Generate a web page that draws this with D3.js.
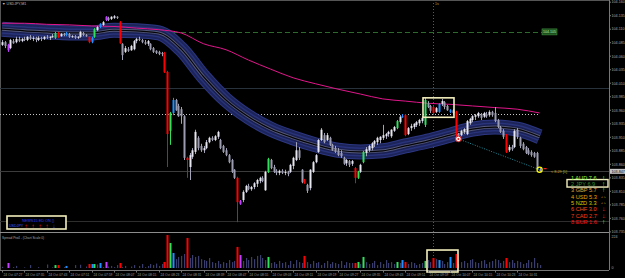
<!DOCTYPE html>
<html lang="en">
<head>
<meta charset="UTF-8">
<title>USDJPY,M1</title>
<script src="https://cdn.jsdelivr.net/npm/d3@7"></script>
<style>
  body { margin: 0; background: #000; }
  svg { display: block; font-family: "Liberation Sans", Arial, sans-serif; }
</style>
</head>
<body>
<svg id="chart" width="625" height="278"></svg>
<script>
// ---- candles (USDJPY M1), one value per bar ----
const open = [
  104.081,104.086,104.081,104.075,104.088,104.086,104.092,104.088,104.092,104.090,
  104.096,104.092,104.094,104.090,104.094,104.092,104.096,104.094,104.096,104.094,
  104.103,104.097,104.101,104.099,104.101,104.096,104.097,104.094,104.096,104.103,
  104.099,104.096,104.086,104.096,104.108,104.114,104.118,104.127,104.131,104.129,
  104.131,104.133,104.123,104.083,104.068,104.073,104.071,104.073,104.088,104.092,
  104.090,104.086,104.083,104.083,104.075,104.070,104.068,104.066,104.066,104.031,
  103.922,103.955,103.979,103.968,103.962,103.949,103.872,103.855,103.874,103.883,
  103.909,103.894,103.886,103.890,103.901,103.909,103.905,103.911,103.905,103.894,
  103.886,103.877,103.868,103.850,103.835,103.792,103.794,103.809,103.820,103.814,
  103.818,103.824,103.829,103.835,103.812,103.846,103.868,103.855,103.848,103.844,
  103.848,103.844,103.846,103.846,103.857,103.868,103.886,103.850,103.831,103.822,
  103.816,103.846,103.864,103.883,103.905,103.914,103.905,103.909,103.896,103.890,
  103.886,103.881,103.872,103.862,103.866,103.861,103.853,103.835,103.846,103.864,
  103.881,103.886,103.890,103.898,103.901,103.905,103.909,103.912,103.916,103.912,
  103.922,103.927,103.938,103.948,103.951,103.916,103.927,103.929,103.933,103.936,
  103.940,103.933,103.973,103.968,103.966,103.957,103.957,103.972,103.975,103.968,
  103.957,103.960,103.957,103.916,103.914,103.920,103.916,103.936,103.942,103.948,
  103.949,103.953,103.948,103.953,103.951,103.957,103.955,103.942,103.929,103.922,
  103.914,103.886,103.892,103.892,103.924,103.909,103.898,103.892,103.886,103.883,
  103.881,103.881,103.851
];
const high = [
  104.090,104.088,104.083,104.092,104.092,104.096,104.096,104.094,104.096,104.097,
  104.099,104.097,104.096,104.097,104.096,104.097,104.099,104.097,104.101,104.105,
  104.105,104.103,104.103,104.105,104.103,104.099,104.099,104.097,104.107,104.105,
  104.101,104.097,104.096,104.112,104.116,104.121,104.125,104.134,104.133,104.134,
  104.136,104.134,104.125,104.084,104.079,104.077,104.081,104.090,104.094,104.096,
  104.092,104.090,104.090,104.084,104.077,104.071,104.070,104.068,104.068,104.033,
  103.957,103.983,103.981,103.972,103.966,103.951,103.874,103.881,103.890,103.924,
  103.912,103.898,103.894,103.905,103.911,103.912,103.914,103.922,103.907,103.896,
  103.890,103.879,103.870,103.851,103.837,103.794,103.812,103.822,103.824,103.820,
  103.827,103.833,103.837,103.838,103.848,103.872,103.870,103.859,103.851,103.850,
  103.851,103.850,103.848,103.861,103.874,103.901,103.892,103.851,103.833,103.824,
  103.851,103.866,103.879,103.907,103.927,103.918,103.918,103.911,103.898,103.894,
  103.890,103.886,103.874,103.870,103.868,103.868,103.855,103.848,103.861,103.885,
  103.892,103.896,103.901,103.905,103.911,103.912,103.933,103.918,103.922,103.925,
  103.931,103.942,103.951,103.953,103.953,103.929,103.935,103.936,103.940,103.944,
  103.949,103.983,103.977,103.970,103.968,103.966,103.973,103.981,103.977,103.970,
  103.962,103.962,103.959,103.918,103.924,103.927,103.942,103.946,103.951,103.953,
  103.957,103.955,103.957,103.957,103.960,103.959,103.966,103.944,103.931,103.925,
  103.916,103.896,103.896,103.925,103.927,103.911,103.901,103.894,103.890,103.886,
  103.883,103.883,103.853
];
const low = [
  104.079,104.075,104.068,104.073,104.083,104.084,104.086,104.086,104.088,104.088,
  104.090,104.088,104.086,104.088,104.088,104.090,104.092,104.090,104.094,104.092,
  104.094,104.096,104.097,104.097,104.094,104.094,104.092,104.092,104.094,104.097,
  104.096,104.084,104.084,104.094,104.107,104.112,104.116,104.125,104.125,104.127,
  104.129,104.129,104.083,104.053,104.066,104.068,104.070,104.071,104.084,104.088,
  104.084,104.081,104.079,104.071,104.066,104.064,104.062,104.060,104.029,103.855,
  103.896,103.951,103.959,103.948,103.935,103.868,103.835,103.831,103.870,103.879,
  103.886,103.883,103.881,103.888,103.899,103.903,103.903,103.907,103.888,103.881,
  103.875,103.862,103.844,103.833,103.753,103.785,103.790,103.807,103.812,103.811,
  103.814,103.818,103.825,103.827,103.811,103.844,103.851,103.844,103.840,103.840,
  103.842,103.840,103.838,103.844,103.851,103.866,103.868,103.825,103.824,103.807,
  103.812,103.844,103.862,103.881,103.903,103.899,103.903,103.894,103.885,103.881,
  103.875,103.872,103.859,103.857,103.855,103.857,103.825,103.833,103.844,103.862,
  103.875,103.883,103.886,103.892,103.896,103.899,103.905,103.907,103.911,103.909,
  103.920,103.925,103.935,103.946,103.912,103.914,103.922,103.925,103.929,103.931,
  103.936,103.929,103.964,103.955,103.953,103.955,103.955,103.968,103.962,103.959,
  103.955,103.951,103.911,103.907,103.912,103.916,103.914,103.933,103.938,103.942,
  103.946,103.942,103.946,103.946,103.948,103.948,103.938,103.927,103.918,103.907,
  103.881,103.883,103.885,103.890,103.907,103.890,103.886,103.879,103.877,103.874,
  103.872,103.850,103.846
];
const close = [
  104.086,104.079,104.071,104.090,104.084,104.092,104.088,104.092,104.090,104.096,
  104.092,104.094,104.090,104.094,104.092,104.096,104.094,104.096,104.097,104.103,
  104.096,104.101,104.099,104.103,104.096,104.097,104.094,104.096,104.105,104.099,
  104.097,104.086,104.094,104.110,104.114,104.120,104.123,104.133,104.127,104.133,
  104.134,104.131,104.084,104.062,104.075,104.070,104.079,104.088,104.092,104.090,
  104.086,104.083,104.088,104.073,104.068,104.066,104.064,104.064,104.031,103.916,
  103.955,103.979,103.960,103.949,103.949,103.872,103.868,103.877,103.886,103.920,
  103.890,103.886,103.890,103.901,103.909,103.905,103.912,103.920,103.890,103.883,
  103.877,103.864,103.846,103.835,103.790,103.787,103.809,103.820,103.814,103.818,
  103.825,103.831,103.835,103.829,103.846,103.870,103.853,103.846,103.844,103.848,
  103.844,103.846,103.842,103.859,103.872,103.886,103.872,103.827,103.825,103.811,
  103.850,103.864,103.877,103.905,103.924,103.901,103.914,103.896,103.886,103.883,
  103.877,103.875,103.861,103.868,103.859,103.866,103.835,103.846,103.859,103.883,
  103.888,103.894,103.899,103.903,103.909,103.911,103.914,103.916,103.920,103.924,
  103.929,103.940,103.948,103.949,103.914,103.927,103.931,103.935,103.938,103.942,
  103.946,103.979,103.966,103.959,103.955,103.964,103.972,103.977,103.966,103.960,
  103.960,103.955,103.914,103.911,103.922,103.925,103.940,103.944,103.949,103.951,
  103.955,103.946,103.955,103.949,103.957,103.951,103.940,103.929,103.920,103.911,
  103.883,103.892,103.888,103.922,103.911,103.894,103.888,103.881,103.879,103.877,
  103.874,103.851,103.847
];

// bars flagged by the signal indicator
const redBars = [20, 31, 42, 58, 59, 66, 84, 108, 126, 144, 154, 162, 180];
const greenBars = [19, 33, 60, 95, 127, 129, 141, 151];
const blueBars = [23, 32, 35, 61, 143, 156, 160];
const magentaBars = [2, 37, 85];

// spread per bar (sub window, scale 0..224)
const spread = [
  8,0,34,0,6,14,0,0,4,0,
  20,0,0,6,0,0,24,0,4,20,
  20,0,6,14,0,0,20,0,22,0,
  10,27,27,27,24,34,6,41,10,14,
  6,20,34,6,14,0,10,20,0,14,
  27,6,14,27,20,30,14,27,41,224,
  170,102,60,75,82,95,204,68,88,75,
  82,60,54,48,68,40,34,48,27,40,
  34,54,40,48,143,88,48,68,54,75,
  60,82,88,68,54,75,34,40,27,48,
  34,40,20,48,27,54,40,34,82,40,
  27,48,34,40,20,34,48,27,40,34,
  27,48,20,40,34,34,34,41,27,75,
  40,27,34,48,20,40,27,54,34,40,
  27,41,34,54,41,27,40,34,20,27,
  34,48,54,40,68,60,54,48,27,40,
  75,34,95,27,40,48,34,54,60,40,
  34,48,54,27,40,48,60,54,34,48,
  68,40,54,34,48,40,27,34,54,40,
  68,34,20
];

// moving averages, read every 8 bars
const maBars = [0,8,16,24,32,40,48,56,64,72,80,88,96,104,112,120,128,136,144,152,160,168,176,184,192];
const bandMid = [104.110,104.107,104.105,104.103,104.103,104.108,104.107,104.103,104.073,104.022,
  103.979,103.948,103.925,103.909,103.896,103.886,103.883,103.885,103.894,103.903,
  103.914,103.925,103.929,103.925,103.911];
const slowMa = [104.121,104.121,104.119,104.118,104.116,104.115,104.112,104.109,104.103,104.083,
  104.072,104.053,104.036,104.020,104.009,103.999,103.990,103.981,103.977,103.973,
  103.971,103.968,103.965,103.962,103.955];

// axis ticks
const priceTicks = [104.160,104.135,104.110,104.085,104.060,104.035,104.010,103.985,103.960,
  103.935,103.910,103.885,103.860,103.835,103.810,103.785,103.760,103.735];
const timeLabels = ['24 Oct 07:27','24 Oct 07:35','24 Oct 07:43','24 Oct 07:51','24 Oct 07:59',
  '24 Oct 08:07','24 Oct 08:15','24 Oct 08:23','24 Oct 08:31','24 Oct 08:39','24 Oct 08:47',
  '24 Oct 08:55','24 Oct 09:03','24 Oct 09:11','24 Oct 09:19','24 Oct 09:27','24 Oct 09:35',
  '24 Oct 09:43','24 Oct 09:51','24 Oct 09:59','24 Oct 10:07','24 Oct 10:15','24 Oct 10:23',
  '24 Oct 10:31'];

// levels
const bidPrice = 103.847;
const targetPrice = 104.105;
const greyLevel = 104.001;
const dottedLevel = 103.953;
const lowLevel = 103.755;

// currency strength panel
const ccyRank = [1, 2, 3, 4, 5, 6, 7, 8];
const ccyName = ['AUD', 'JPY', 'GBP', 'USD', 'NZD', 'CHF', 'CAD', 'EUR'];
const ccyValue = [7.6, 6.9, 5.7, 5.3, 3.3, 3.0, 2.7, 1.6];
const ccyTrend = ['up', 'up', 'up', 'flat', 'flat', 'down', 'down', 'up'];

// news panel arrows
const newsArrows = ['up', 'up', 'up', 'up', 'down'];

const svg = d3.select('#chart');
const W = 625, H = 278;
const plotRight = 609, mainBottom = 232;
const n = close.length;

svg.append('rect').attr('width', W).attr('height', H).attr('fill', '#000');

const x = d3.scaleLinear().domain([0, n - 1]).range([2, 539.6]);
const y = d3.scaleLinear().domain([103.7348, 104.164]).range([mainBottom, 0]);
const ys = d3.scaleLinear().domain([0, 224]).range([268, 235]);

const signal = {};
redBars.forEach(i => signal[i] = '#ff0000');
greenBars.forEach(i => signal[i] = '#2fe05a');
blueBars.forEach(i => signal[i] = '#1e90ff');
magentaBars.forEach(i => signal[i] = '#c040ff');

// frame
svg.append('line').attr('x1', 0.5).attr('x2', 0.5).attr('y1', 0).attr('y2', 270).attr('stroke', '#555');
svg.append('line').attr('x1', 0).attr('x2', plotRight).attr('y1', 0.5).attr('y2', 0.5).attr('stroke', '#555');
svg.append('line').attr('x1', plotRight + 0.5).attr('x2', plotRight + 0.5).attr('y1', 0).attr('y2', 270).attr('stroke', '#777');
svg.append('line').attr('x1', 0).attr('x2', plotRight).attr('y1', mainBottom + 0.5).attr('y2', mainBottom + 0.5).attr('stroke', '#8c8c8c');
svg.append('line').attr('x1', 0).attr('x2', plotRight).attr('y1', 270.5).attr('y2', 270.5).attr('stroke', '#777');

// horizontal levels
const hline = (p, x1, x2, color, dash) => svg.append('line')
  .attr('x1', x1).attr('x2', x2)
  .attr('y1', Math.round(y(p)) + 0.5).attr('y2', Math.round(y(p)) + 0.5)
  .attr('stroke', color).attr('stroke-dasharray', dash || null);
hline(greyLevel, 0, plotRight, '#27323c');
hline(lowLevel, 0, plotRight, '#2e2e2e');
hline(bidPrice, 0, plotRight, '#3c3c3c');
hline(dottedLevel, 0, x(n - 1), '#c8c8c8', '1,2');
hline(targetPrice, 165, 542, '#2e6a2e', '5,3');

// target label
svg.append('rect').attr('x', 542).attr('y', y(targetPrice) - 3).attr('width', 15).attr('height', 6)
  .attr('fill', '#1d4f1d').attr('stroke', '#3f8f3f').attr('stroke-width', 0.6);
svg.append('text').attr('x', 549.5).attr('y', y(targetPrice) + 1.3).attr('text-anchor', 'middle')
  .attr('font-size', 3.6).attr('fill', '#b8f0b8').text(targetPrice.toFixed(3));

// vertical dotted timer line
svg.append('line').attr('x1', 433.5).attr('x2', 433.5).attr('y1', 0).attr('y2', 270)
  .attr('stroke', '#5a5a5a').attr('stroke-dasharray', '1,2');
svg.append('text').attr('x', 435).attr('y', 5).attr('font-size', 3.6).attr('fill', '#b0a040').text('1s');

// channel band
const maLine = d3.line().x((d, k) => x(maBars[k])).y(d => y(d)).curve(d3.curveMonotoneX);
const bandLayers = [
  [15, '#2c3782'], [13, '#1c2459'], [9, '#28337a'], [6, '#1a2152'],
  [3, '#55597a'], [1.2, '#050508']
];
bandLayers.forEach(([w, c]) => {
  svg.append('path').attr('d', maLine(bandMid)).attr('fill', 'none')
    .attr('stroke', c).attr('stroke-width', w);
});

// slow MA
svg.append('path').attr('d', maLine(slowMa)).attr('fill', 'none')
  .attr('stroke', '#e0168a').attr('stroke-width', 1);

// candles
const gC = svg.append('g');
d3.range(n).forEach(i => {
  const cx = Math.round(x(i));
  const up = close[i] >= open[i];
  const col = signal[i] || (up ? '#e6e6f0' : '#9c9cb0');
  gC.append('line')
    .attr('x1', cx + 0.5).attr('x2', cx + 0.5)
    .attr('y1', y(high[i])).attr('y2', y(low[i]))
    .attr('stroke', signal[i] || '#a4a4b8').attr('stroke-width', 1);
  const top = y(Math.max(open[i], close[i]));
  const h = Math.max(1, Math.abs(y(open[i]) - y(close[i])));
  gC.append('rect')
    .attr('x', cx - 0.5).attr('y', top).attr('width', 2).attr('height', h)
    .attr('fill', col);
});

// candle highlight box
svg.append('rect').attr('x', 423).attr('y', y(103.983)).attr('width', 31)
  .attr('height', y(103.947) - y(103.983)).attr('fill', 'none')
  .attr('stroke', '#f3eebc').attr('stroke-width', 1.6);

// divergence line and markers
const mA = 163, mB = n - 1;
svg.append('line').attr('x1', x(mA)).attr('y1', y(103.907)).attr('x2', x(mB)).attr('y2', y(103.850))
  .attr('stroke', '#1f8c9c').attr('stroke-dasharray', '1,1.5');
svg.append('circle').attr('cx', x(mA)).attr('cy', y(103.907)).attr('r', 2.8)
  .attr('fill', '#fff').attr('stroke', '#e02020').attr('stroke-width', 1);
svg.append('circle').attr('cx', x(mA)).attr('cy', y(103.907)).attr('r', 1)
  .attr('fill', '#e02020');
svg.append('circle').attr('cx', x(mB)).attr('cy', y(103.850)).attr('r', 2.6)
  .attr('fill', 'none').attr('stroke', '#ffff00').attr('stroke-width', 1.2);
svg.append('line').attr('x1', x(mB) + 4).attr('x2', x(mB) + 7).attr('y1', y(103.852)).attr('y2', y(103.852))
  .attr('stroke', '#ff2020').attr('stroke-width', 1.2);
svg.append('text').attr('x', 551).attr('y', y(103.847) + 1.3).attr('font-size', 3.8)
  .attr('fill', '#d4a017').text('< 8.29 [1]');

// price axis
const gY = svg.append('g').attr('font-size', 3.7).attr('fill', '#a8a8a8');
priceTicks.forEach(p => {
  gY.append('line').attr('x1', plotRight).attr('x2', plotRight + 2)
    .attr('y1', y(p)).attr('y2', y(p)).attr('stroke', '#777');
  gY.append('text').attr('x', plotRight + 2.5).attr('y', y(p) + 1.3).text(p.toFixed(3));
});
svg.append('rect').attr('x', plotRight + 1).attr('y', y(bidPrice) - 2.5).attr('width', 15).attr('height', 5)
  .attr('fill', '#c4c4c4');
svg.append('text').attr('x', plotRight + 2.5).attr('y', y(bidPrice) + 1.3)
  .attr('font-size', 3.7).attr('fill', '#000').text(bidPrice.toFixed(3));

// symbol label
svg.append('text').attr('x', 2).attr('y', 5).attr('font-size', 3.6).attr('fill', '#bbb')
  .text('\u25BC USDJPY,M1');

// currency strength table
const rowColor = ['#8cff3c', '#2f8f2f', '#e5a23c', '#f0a000', '#d8c800', '#ff4a1a', '#ff3a10', '#ff1010'];
const arrowColor = { up: '#22ff22', down: '#ff2020', flat: '#e0c000' };
const arrowGlyph = { up: '\u2191', down: '\u2193', flat: '\u21D4' };
const rowY = d3.scaleLinear().domain([0, 7]).range([177.5, 222]);
svg.append('rect').attr('x', 567).attr('y', rowY(1) - 4.3).attr('width', 41).attr('height', 7.5)
  .attr('fill', 'none').attr('stroke', '#f3eebc').attr('stroke-width', 1.4);
ccyName.forEach((c, k) => {
  svg.append('text').attr('x', 571).attr('y', rowY(k) + 2).attr('font-size', 5.6)
    .attr('fill', rowColor[k]).text(ccyRank[k] + ' ' + c + ' ' + ccyValue[k].toFixed(1));
  svg.append('text').attr('x', 603.5).attr('y', rowY(k) + 2.2).attr('font-size', 6.5)
    .attr('font-weight', 'bold').attr('text-anchor', 'middle')
    .attr('fill', arrowColor[ccyTrend[k]]).text(arrowGlyph[ccyTrend[k]]);
});

// news panel
svg.append('rect').attr('x', 7).attr('y', 216).attr('width', 59).attr('height', 13)
  .attr('fill', '#000').attr('stroke', '#f3eebc').attr('stroke-width', 1.6);
svg.append('text').attr('x', 22).attr('y', 221.5).attr('font-size', 3.8).attr('fill', '#2a3cff')
  .text('NEWS15 ED ON ()');
svg.append('text').attr('x', 9).attr('y', 227).attr('font-size', 3.6).attr('fill', '#3c5cff')
  .text('USDJPY');
newsArrows.forEach((a, k) => {
  svg.append('text').attr('x', 26 + k * 7).attr('y', 228).attr('font-size', 6).attr('font-weight', 'bold')
    .attr('text-anchor', 'middle').attr('fill', a === 'up' ? '#ff1a1a' : '#2050ff')
    .text(a === 'up' ? '\u2191' : '\u2193');
});

// spread sub window
svg.append('text').attr('x', 2).attr('y', 239).attr('font-size', 3.2).attr('fill', '#aaa')
  .text('Spread Pro4 - (Chart Scale 0)');
const gS = svg.append('g');
spread.forEach((v, i) => {
  if (v <= 0) return;
  const cx = Math.round(x(i));
  const col = signal[i];
  gS.append('rect').attr('x', col ? cx - 0.5 : cx).attr('y', ys(v))
    .attr('width', col ? 2 : 1.2).attr('height', ys(0) - ys(v))
    .attr('fill', col || '#3b3e6c');
});
svg.append('rect').attr('x', 427).attr('y', ys(122)).attr('width', 31).attr('height', 272 - ys(122))
  .attr('fill', 'none').attr('stroke', '#f3eebc').attr('stroke-width', 1.6);
svg.append('text').attr('x', plotRight + 2.5).attr('y', ys(224) + 2.5).attr('font-size', 3.6)
  .attr('fill', '#a8a8a8').text('224');
svg.append('text').attr('x', plotRight + 2.5).attr('y', ys(0) + 1.3).attr('font-size', 3.6)
  .attr('fill', '#a8a8a8').text('0');

// time axis
const gX = svg.append('g').attr('font-size', 3.3).attr('fill', '#9c9c9c');
timeLabels.forEach((t, k) => {
  const tx = Math.round(x(k * 8)) + 0.5;
  gX.append('line').attr('x1', tx).attr('x2', tx).attr('y1', 270).attr('y2', 272.5).attr('stroke', '#777');
  gX.append('text').attr('x', tx + 1).attr('y', 275.5).text(t);
});
</script>
</body>
</html>
